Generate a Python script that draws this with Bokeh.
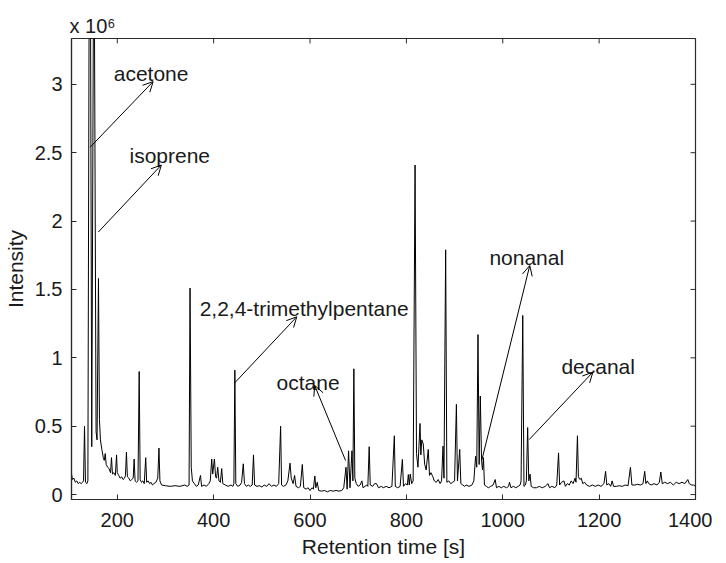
from bokeh.plotting import figure
from bokeh.models import ColumnDataSource, FixedTicker, Arrow, OpenHead
from bokeh.core.properties import value
from bokeh.embed import file_html
from bokeh.resources import INLINE

# ---------------- data (intensity in units of 1e6) ----------------
rt = [105, 107, 110, 113, 116, 119, 122, 125, 128, 130, 132, 134, 137, 139,
      143, 147, 151.5, 156, 158, 161, 163, 165, 168, 171, 173, 175, 177, 180,
      183, 186, 188, 190, 193, 196, 198.5, 200, 203, 206, 209, 212, 215, 217,
      219, 221, 224, 227, 230, 233, 235, 237, 240, 243, 245.5, 247.5, 250, 253,
      256, 259, 261, 264, 267, 270, 273, 276, 280, 284, 286.5, 288.5, 292, 300,
      310, 320, 330, 340, 345, 349, 351, 353.5, 356, 360, 364, 368, 372.7, 375,
      380, 385, 390, 393, 396, 398, 401.6, 404, 406, 408.5, 411, 414, 416.7,
      419, 424, 430, 436, 440, 442, 444, 446, 450, 455, 458, 461.5, 464, 468,
      472, 476, 480, 482.7, 485, 490, 495, 500, 505, 510, 515, 520, 525, 530,
      535, 539, 541, 545, 550, 554, 558.5, 561, 565, 568, 571, 576, 580, 584,
      587, 592, 596, 600, 604, 607, 610, 612, 615, 618, 624, 630, 636, 642, 648,
      654, 660, 666, 670, 674.7, 677, 680, 683, 687, 689, 691, 693, 696, 700,
      704, 707.7, 710, 714, 718, 720, 722.8, 725, 730, 734, 738, 742, 748, 752,
      758, 764, 770, 775, 777, 782, 787, 791.7, 794, 798, 802, 804, 806, 808,
      811, 814, 818, 821, 824, 826, 828.3, 830, 832, 835, 838, 841, 845.4, 848,
      851, 855, 858, 862, 866, 870, 873, 876, 878, 881.5, 884, 888, 892, 896,
      900, 903.8, 906, 910.7, 913, 917, 921, 924, 930, 936, 940, 943.6, 946,
      948.6, 951, 953.4, 956, 958, 960, 962, 966, 970, 975, 980, 984.3, 987,
      992, 997, 1002, 1008, 1012, 1014, 1017, 1022, 1027, 1032, 1036, 1038,
      1041.5, 1044, 1047, 1049, 1051.7, 1054, 1056.6, 1059, 1064, 1070, 1076,
      1082, 1088, 1094, 1097, 1102, 1108, 1112, 1115.8, 1118, 1122, 1127, 1130,
      1134, 1138, 1142, 1146, 1150, 1152, 1155, 1157, 1160, 1163, 1166, 1170,
      1174, 1180, 1186, 1192, 1198, 1204, 1210, 1213.4, 1216, 1220, 1224, 1227,
      1230, 1236, 1242, 1248, 1254, 1260, 1265, 1268, 1274, 1280, 1286, 1291,
      1294.6, 1297, 1300, 1303, 1308, 1314, 1320, 1325, 1328, 1331, 1336, 1342,
      1348, 1354, 1360, 1366, 1372, 1378, 1384, 1387, 1392, 1396, 1400]
intensity = [0.15, 0.11, 0.12, 0.09, 0.10, 0.08, 0.09, 0.08, 0.09, 0.10, 0.50,
             0.09, 0.08, 0.10, 5.5, 0.35, 4.5, 0.46, 0.40, 1.58, 0.55, 0.40,
             0.33, 0.27, 0.25, 0.30, 0.22, 0.20, 0.19, 0.16, 0.27, 0.15, 0.16,
             0.14, 0.29, 0.16, 0.14, 0.12, 0.13, 0.11, 0.12, 0.14, 0.31, 0.13,
             0.12, 0.10, 0.11, 0.12, 0.26, 0.10, 0.09, 0.10, 0.90, 0.11, 0.09,
             0.10, 0.08, 0.27, 0.09, 0.10, 0.08, 0.09, 0.07, 0.08, 0.09, 0.12,
             0.34, 0.10, 0.07, 0.065, 0.06, 0.065, 0.06, 0.07, 0.06, 0.07, 1.51,
             0.20, 0.10, 0.08, 0.06, 0.07, 0.14, 0.06, 0.07, 0.06, 0.08, 0.10,
             0.26, 0.15, 0.26, 0.13, 0.12, 0.20, 0.10, 0.09, 0.19, 0.08, 0.07,
             0.06, 0.07, 0.06, 0.08, 0.91, 0.08, 0.06, 0.07, 0.09, 0.225, 0.08,
             0.06, 0.07, 0.06, 0.07, 0.29, 0.07, 0.06, 0.065, 0.055, 0.07, 0.06,
             0.08, 0.06, 0.07, 0.06, 0.08, 0.50, 0.07, 0.06, 0.07, 0.10, 0.23,
             0.12, 0.08, 0.14, 0.06, 0.05, 0.06, 0.22, 0.05, 0.04, 0.05, 0.03,
             0.05, 0.04, 0.136, 0.05, 0.09, 0.03, 0.025, 0.03, 0.02, 0.03, 0.025,
             0.03, 0.025, 0.03, 0.05, 0.20, 0.04, 0.32, 0.05, 0.32, 0.10, 0.92,
             0.12, 0.08, 0.06, 0.07, 0.10, 0.05, 0.06, 0.07, 0.06, 0.35, 0.07,
             0.06, 0.08, 0.08, 0.05, 0.06, 0.05, 0.06, 0.05, 0.06, 0.43, 0.06,
             0.05, 0.06, 0.257, 0.06, 0.08, 0.07, 0.146, 0.07, 0.15, 0.08, 0.10,
             2.41, 0.30, 0.20, 0.35, 0.52, 0.29, 0.40, 0.37, 0.22, 0.18, 0.33,
             0.14, 0.16, 0.13, 0.10, 0.09, 0.11, 0.08, 0.10, 0.354, 0.12, 1.79,
             0.09, 0.10, 0.08, 0.09, 0.10, 0.66, 0.10, 0.33, 0.08, 0.07, 0.06,
             0.07, 0.06, 0.07, 0.10, 0.28, 0.20, 1.17, 0.22, 0.72, 0.25, 0.18,
             0.27, 0.07, 0.06, 0.05, 0.06, 0.07, 0.11, 0.05, 0.06, 0.05, 0.06,
             0.05, 0.06, 0.09, 0.05, 0.06, 0.05, 0.06, 0.07, 0.10, 1.31, 0.06,
             0.07, 0.10, 0.49, 0.10, 0.15, 0.06, 0.05, 0.05, 0.06, 0.05, 0.06,
             0.08, 0.05, 0.06, 0.05, 0.07, 0.305, 0.07, 0.09, 0.10, 0.06, 0.08,
             0.07, 0.10, 0.08, 0.12, 0.09, 0.43, 0.13, 0.11, 0.12, 0.08, 0.09,
             0.07, 0.06, 0.07, 0.06, 0.07, 0.06, 0.08, 0.17, 0.07, 0.08, 0.06,
             0.10, 0.06, 0.06, 0.065, 0.06, 0.07, 0.065, 0.20, 0.07, 0.07, 0.075,
             0.07, 0.08, 0.17, 0.08, 0.10, 0.08, 0.07, 0.08, 0.07, 0.09, 0.165,
             0.08, 0.09, 0.08, 0.09, 0.07, 0.09, 0.08, 0.09, 0.08, 0.11, 0.08,
             0.07, 0.07, 0.06]

x_ticks = [200, 400, 600, 800, 1000, 1200, 1400]
y_ticks = [0, 0.5, 1, 1.5, 2, 2.5, 3]
y_tick_labels = ["0", "0.5", "1", "1.5", "2", "2.5", "3"]

compounds = ["acetone", "isoprene", "2,2,4-trimethylpentane", "octane",
             "nonanal", "decanal"]
peak_rt = [143.6, 160.7, 443.2, 673.8, 956.2, 1054.8]        # arrow tails
peak_int = [2.54, 1.92, 0.815, 0.249, 0.247, 0.402]
head_rt = [274.4, 291.5, 572.5, 609.7, 1056.0, 1187.0]       # arrow heads
head_int = [3.02, 2.41, 1.30, 0.798, 1.675, 0.895]
label_rt = [270.2, 308.9, 587.8, 596.0, 1049.8, 1198.0]
label_int = [3.076, 2.482, 1.36, 0.82, 1.736, 0.938]

X0, X1 = 105, 1400
Y0, Y1 = -0.036, 3.335
FONT = "Liberation Sans"
AX = "#2b2b2b"
TXT = "#1a1a1a"

W, H = 712, 560
ML, MR, MT, MB = 67, 17, 38, 58
p = figure(width=W, height=H, x_range=(X0, X1), y_range=(Y0, Y1),
           output_backend="svg", toolbar_location=None,
           min_border_left=ML, min_border_right=MR, min_border_top=MT,
           min_border_bottom=MB,
           x_axis_label="Retention time [s]", y_axis_label="Intensity",
           title="x 10\u2076")
p.grid.visible = False
p.outline_line_color = AX
p.outline_line_width = 1.2
p.background_fill_color = "white"
p.border_fill_color = "white"

p.title.align = "left"
p.title.offset = -2
p.title.standoff = 3
p.title.text_font = FONT
p.title.text_font_size = "20px"
p.title.text_font_style = "normal"
p.title.text_color = TXT

p.line(rt, intensity, line_color="black", line_width=1)

# annotations
src = ColumnDataSource(dict(x0=peak_rt, y0=peak_int, x1=head_rt, y1=head_int))
p.add_layout(Arrow(end=OpenHead(size=10, line_width=1, line_color="black"),
                   source=src, x_start="x0", y_start="y0", x_end="x1", y_end="y1",
                   line_color="black", line_width=1))
p.text(x=label_rt, y=label_int, text=compounds, text_font=value(FONT),
       text_font_size="21px", text_align="center", text_baseline="alphabetic",
       text_color=TXT)

# axes styling
xt = FixedTicker(ticks=x_ticks, minor_ticks=[])
yt = FixedTicker(ticks=y_ticks, minor_ticks=[])
p.xaxis.ticker = xt
p.yaxis.ticker = yt
p.yaxis.major_label_overrides = {t: s for t, s in zip(y_ticks, y_tick_labels)}

for ax in (p.xaxis[0], p.yaxis[0]):
    ax.major_tick_in = 5
    ax.major_tick_out = 0
    ax.minor_tick_line_color = None
    ax.axis_line_color = AX
    ax.axis_line_width = 1.2
    ax.major_tick_line_color = AX
    ax.major_label_text_font = FONT
    ax.major_label_text_font_size = "20px"
    ax.major_label_text_color = TXT
    ax.axis_label_text_font = FONT
    ax.axis_label_text_font_size = "21px"
    ax.axis_label_text_font_style = "normal"
    ax.axis_label_text_color = TXT

p.xaxis.major_label_standoff = 13
p.xaxis.axis_label_standoff = 5
p.yaxis.major_label_standoff = 9
p.yaxis.axis_label_standoff = 5

# inward ticks on the top and right edges of the box (5 px long)
fw, fh = W - ML - MR, H - MT - MB
tx = 5 * (X1 - X0) / fw
ty = 5 * (Y1 - Y0) / fh
p.segment(x0=x_ticks, y0=[Y1] * len(x_ticks), x1=x_ticks,
          y1=[Y1 - ty] * len(x_ticks), line_color=AX, line_width=1)
p.segment(x0=[X1] * len(y_ticks), y0=y_ticks, x1=[X1 - tx] * len(y_ticks),
          y1=y_ticks, line_color=AX, line_width=1)

open("out.html", "w").write(file_html(p, INLINE))
